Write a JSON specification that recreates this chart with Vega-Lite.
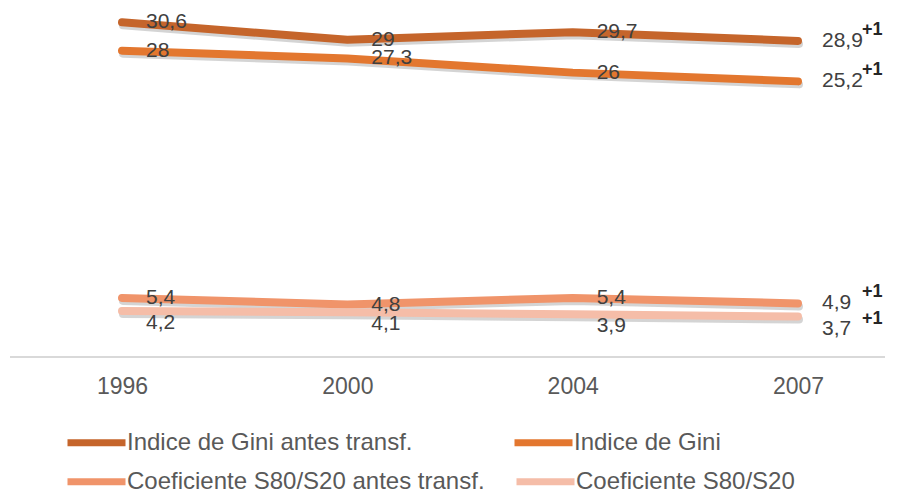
{
  "$schema": "https://vega.github.io/schema/vega-lite/v6.json",
  "width": 875,
  "height": 350,
  "autosize": {"type": "none"},
  "padding": {"left": 10, "top": 7, "right": 14, "bottom": 134},
  "config": {
    "view": {"stroke": null},
    "locale": {"number": {"decimal": ",", "thousands": ".", "grouping": [3], "currency": ["", " €"]}},
    "font": "Liberation Sans",
    "legend": {
      "title": null, "orient": "none", "direction": "horizontal", "columns": 2,
      "symbolType": "stroke", "symbolSize": 3364, "symbolStrokeWidth": 7,
      "labelFontSize": 24, "labelFont": "Liberation Sans", "labelColor": "#595959", "labelLimit": 600,
      "labelOffset": -2
    }
  },
  "data": {
    "values": [
      {"serie": "Indice de  Gini antes transf.", "year": "1996", "value": 30.6},
      {"serie": "Indice de  Gini antes transf.", "year": "2000", "value": 29},
      {"serie": "Indice de  Gini antes transf.", "year": "2004", "value": 29.7},
      {"serie": "Indice de  Gini antes transf.", "year": "2007", "value": 28.9},
      {"serie": "Indice de Gini", "year": "1996", "value": 28},
      {"serie": "Indice de Gini", "year": "2000", "value": 27.3},
      {"serie": "Indice de Gini", "year": "2004", "value": 26},
      {"serie": "Indice de Gini", "year": "2007", "value": 25.2},
      {"serie": "Coeficiente S80/S20 antes transf.", "year": "1996", "value": 5.4},
      {"serie": "Coeficiente S80/S20 antes transf.", "year": "2000", "value": 4.8},
      {"serie": "Coeficiente S80/S20 antes transf.", "year": "2004", "value": 5.4},
      {"serie": "Coeficiente S80/S20 antes transf.", "year": "2007", "value": 4.9},
      {"serie": "Coeficiente S80/S20", "year": "1996", "value": 4.2},
      {"serie": "Coeficiente S80/S20", "year": "2000", "value": 4.1},
      {"serie": "Coeficiente S80/S20", "year": "2004", "value": 3.9},
      {"serie": "Coeficiente S80/S20", "year": "2007", "value": 3.7}
    ]
  },
  "layer": [
    {
      "mark": {"type": "rule", "color": "#D9D9D9", "strokeWidth": 1.5},
      "encoding": {"y": {"datum": 0, "type": "quantitative", "scale": {"domain": [0, 32]}, "axis": null}}
    },
    {
      "encoding": {
        "x": {
          "field": "year", "type": "ordinal",
          "scale": {"type": "point", "range": [112, 788], "padding": 0},
          "axis": {"title": null, "labelAngle": 0, "labelFontSize": 23, "labelColor": "#595959", "labelFont": "Liberation Sans",
                   "domain": false, "ticks": false, "grid": false, "labelPadding": 18}
        },
        "y": {"field": "value", "type": "quantitative", "scale": {"domain": [0, 32]}, "axis": null}
      },
      "layer": [
        {
          "mark": {"type": "line", "strokeWidth": 8, "strokeCap": "round", "color": "#6f6f6f", "opacity": 0.3, "yOffset": 3, "xOffset": 1},
          "encoding": {"detail": {"field": "serie"}}
        },
        {
          "transform": [{"filter": "indexof(datum.serie, 'Gini') >= 0"}],
          "mark": {"type": "line", "strokeWidth": 8, "strokeCap": "round", "strokeJoin": "round"},
          "encoding": {
            "color": {
              "field": "serie", "type": "nominal",
              "scale": {
                "domain": ["Indice de  Gini antes transf.", "Indice de Gini"],
                "range": ["#C5652B", "#E3772F"]
              },
              "legend": {"legendX": 54, "legendY": 403, "columnPadding": 80}
            }
          }
        },
        {
          "transform": [{"filter": "indexof(datum.serie, 'S80') >= 0"}],
          "mark": {"type": "line", "strokeWidth": 8, "strokeCap": "round", "strokeJoin": "round"},
          "encoding": {
            "stroke": {
              "field": "serie", "type": "nominal",
              "scale": {
                "domain": ["Coeficiente S80/S20 antes transf.", "Coeficiente S80/S20"],
                "range": ["#F0946A", "#F5BDA8"]
              },
              "legend": {"legendX": 54, "legendY": 442, "columnPadding": 17}
            }
          }
        },
        {
          "transform": [{"filter": "datum.serie != 'Coeficiente S80/S20'"}],
          "mark": {"type": "text", "align": "left", "baseline": "middle", "dx": 24, "fontSize": 21, "color": "#404040", "font": "Liberation Sans"},
          "encoding": {"text": {"field": "value", "type": "quantitative", "format": ".3~g"}}
        },
        {
          "transform": [{"filter": "datum.serie == 'Coeficiente S80/S20'"}],
          "mark": {"type": "text", "align": "left", "baseline": "middle", "dx": 24, "dy": 12, "fontSize": 21, "color": "#404040", "font": "Liberation Sans"},
          "encoding": {"text": {"field": "value", "type": "quantitative", "format": ".3~g"}}
        },
        {
          "transform": [{"filter": "datum.year == '2007' && datum.serie != 'Coeficiente S80/S20'"}],
          "mark": {"type": "text", "align": "left", "baseline": "middle", "dx": 64, "dy": -11, "fontSize": 18, "fontWeight": "bold", "color": "#262626", "text": "+1"}
        },
        {
          "transform": [{"filter": "datum.year == '2007' && datum.serie == 'Coeficiente S80/S20'"}],
          "mark": {"type": "text", "align": "left", "baseline": "middle", "dx": 64, "dy": 2, "fontSize": 18, "fontWeight": "bold", "color": "#262626", "text": "+1"}
        }
      ]
    }
  ]
}
